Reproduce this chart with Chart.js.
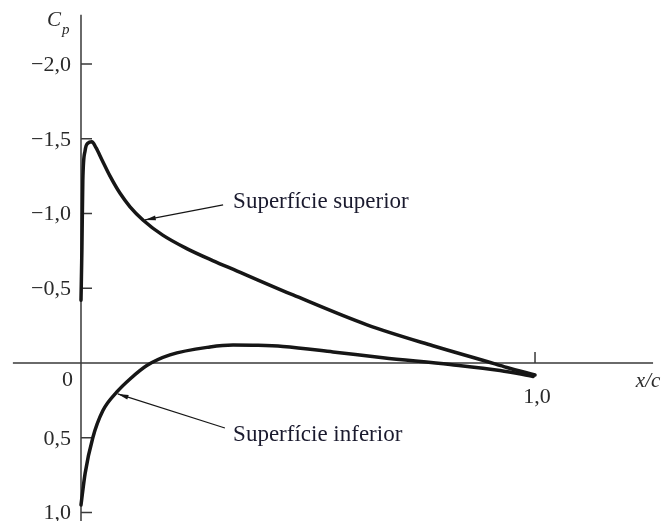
<!DOCTYPE html>
<html>
<head>
<meta charset="utf-8">
<script src="https://cdn.jsdelivr.net/npm/chart.js@4"></script>
<style>
  html, body { margin: 0; padding: 0; background: #fff; }
  #wrap { width: 667px; height: 521px; }
</style>
</head>
<body>
<div id="wrap"><canvas id="grafico"></canvas></div>
<script>
// distribuzione di Cp sul profilo: superficie superiore e inferiore
const xSup  = [0.000, 0.002, 0.004, 0.009, 0.015, 0.024, 0.033, 0.046, 0.064, 0.086, 0.108, 0.137, 0.180, 0.233, 0.290, 0.344, 0.467, 0.630, 0.775, 0.894, 0.938, 1.000];
const cpSup = [-0.42, -0.76, -1.22, -1.42, -1.47, -1.48, -1.44, -1.36, -1.25, -1.135, -1.045, -0.955, -0.855, -0.765, -0.685, -0.615, -0.455, -0.255, -0.115, -0.01, 0.03, 0.08];

const xInf  = [0.000, 0.009, 0.026, 0.048, 0.079, 0.108, 0.145, 0.196, 0.284, 0.335, 0.390, 0.445, 0.555, 0.665, 0.813, 0.923, 0.996];
const cpInf = [0.95, 0.74, 0.50, 0.32, 0.194, 0.107, 0.017, -0.054, -0.107, -0.12, -0.118, -0.11, -0.074, -0.035, 0.01, 0.05, 0.09];

// tacche degli assi
const yTicks = [-2.0, -1.5, -1.0, -0.5, 0.5, 1.0];
const yTickLabels = ['\u22122,0', '\u22121,5', '\u22121,0', '\u22120,5', '0,5', '1,0'];
const xTicks = [1.0];
const xTickLabels = ['1,0'];

// etichette con freccia
const etichette = [
  { testo: 'Superfície superior', x: 0.335, y: -1.037, da: [0.313, -1.057], a: [0.141, -0.957] },
  { testo: 'Superfície inferior', x: 0.335, y: 0.522, da: [0.317, 0.435], a: [0.081, 0.207] }
];

const serif = '"Liberation Serif", "DejaVu Serif", serif';
const colore = '#161616';

function punti(xs, ys) {
  return xs.map((x, i) => ({ x: x, y: ys[i] }));
}

// assi disegnati a mano: croce con tacche interne
const assiPlugin = {
  id: 'assi',
  beforeDatasetsDraw(chart) {
    const ctx = chart.ctx;
    const sx = chart.scales.x;
    const sy = chart.scales.y;
    const x0 = sx.getPixelForValue(0);
    const y0 = sy.getPixelForValue(0);
    ctx.save();
    ctx.strokeStyle = '#3a3a3a';
    ctx.lineWidth = 1.5;
    ctx.beginPath();
    ctx.moveTo(x0, sy.getPixelForValue(-2.33));
    ctx.lineTo(x0, chart.height);
    ctx.moveTo(sx.getPixelForValue(-0.15), y0);
    ctx.lineTo(sx.getPixelForValue(1.26), y0);
    yTicks.forEach(v => {
      const py = sy.getPixelForValue(v);
      ctx.moveTo(x0, py);
      ctx.lineTo(x0 + 11, py);
    });
    xTicks.forEach(v => {
      const px = sx.getPixelForValue(v);
      ctx.moveTo(px, y0);
      ctx.lineTo(px, y0 - 11);
    });
    ctx.stroke();

    ctx.fillStyle = '#2a2a2a';
    ctx.font = '22px ' + serif;
    ctx.textAlign = 'right';
    ctx.textBaseline = 'middle';
    yTicks.forEach((v, i) => {
      ctx.fillText(yTickLabels[i], x0 - 10, sy.getPixelForValue(v) + 1);
    });
    ctx.fillText('0', x0 - 8, y0 + 17);
    ctx.textAlign = 'center';
    xTicks.forEach((v, i) => {
      ctx.fillText(xTickLabels[i], sx.getPixelForValue(v) + 2, y0 + 34);
    });
    ctx.textAlign = 'left';
    ctx.font = 'italic 21px ' + serif;
    ctx.fillText('x/c', sx.getPixelForValue(1.222), y0 + 19);
    ctx.fillText('C', x0 - 34, 20);
    ctx.font = 'italic 15px ' + serif;
    ctx.fillText('p', x0 - 19, 30);
    ctx.restore();
  },
  afterDatasetsDraw(chart) {
    const ctx = chart.ctx;
    const sx = chart.scales.x;
    const sy = chart.scales.y;
    ctx.save();
    etichette.forEach(e => {
      const x1 = sx.getPixelForValue(e.da[0]), y1 = sy.getPixelForValue(e.da[1]);
      const x2 = sx.getPixelForValue(e.a[0]), y2 = sy.getPixelForValue(e.a[1]);
      ctx.strokeStyle = colore;
      ctx.lineWidth = 1.2;
      ctx.beginPath();
      ctx.moveTo(x1, y1);
      ctx.lineTo(x2, y2);
      ctx.stroke();
      // punta della freccia
      const ang = Math.atan2(y2 - y1, x2 - x1);
      ctx.fillStyle = colore;
      ctx.beginPath();
      ctx.moveTo(x2, y2);
      ctx.lineTo(x2 - 11 * Math.cos(ang - 0.22), y2 - 11 * Math.sin(ang - 0.22));
      ctx.lineTo(x2 - 11 * Math.cos(ang + 0.22), y2 - 11 * Math.sin(ang + 0.22));
      ctx.closePath();
      ctx.fill();

      ctx.fillStyle = '#1a1a2e';
      ctx.font = '23px ' + serif;
      ctx.textAlign = 'left';
      ctx.textBaseline = 'alphabetic';
      ctx.fillText(e.testo, sx.getPixelForValue(e.x), sy.getPixelForValue(e.y));
    });
    ctx.restore();
  }
};

const ctx = document.getElementById('grafico').getContext('2d');
new Chart(ctx, {
  type: 'scatter',
  data: {
    datasets: [
      {
        label: 'Superfície superior',
        data: punti(xSup, cpSup),
        showLine: true,
        borderColor: colore,
        borderWidth: 3.5,
        cubicInterpolationMode: 'monotone',
        pointRadius: 0,
        borderCapStyle: 'round',
        borderJoinStyle: 'round'
      },
      {
        label: 'Superfície inferior',
        data: punti(xInf, cpInf),
        showLine: true,
        borderColor: colore,
        borderWidth: 3.5,
        cubicInterpolationMode: 'monotone',
        pointRadius: 0,
        borderCapStyle: 'round',
        borderJoinStyle: 'round'
      }
    ]
  },
  options: {
    responsive: true,
    maintainAspectRatio: false,
    animation: false,
    layout: { padding: 0 },
    plugins: {
      legend: { display: false },
      tooltip: { enabled: false }
    },
    scales: {
      x: { type: 'linear', display: false, min: -0.1784, max: 1.2907 },
      y: { type: 'linear', display: false, reverse: true, min: -2.428, max: 1.057 }
    }
  },
  plugins: [assiPlugin]
});
</script>
</body>
</html>
